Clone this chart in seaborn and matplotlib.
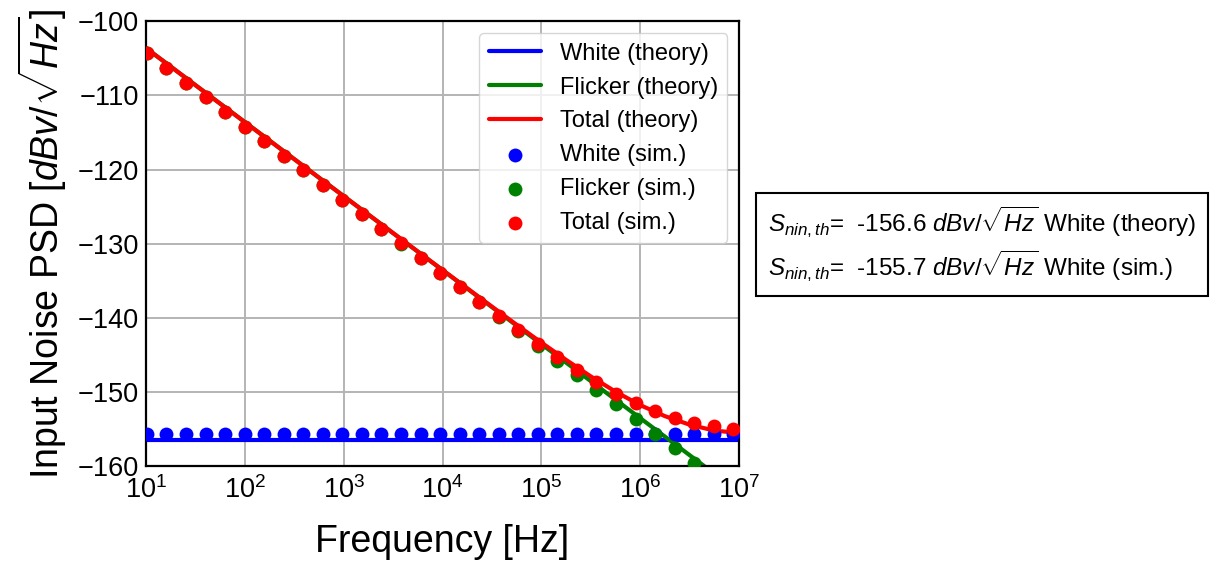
import matplotlib
matplotlib.use("Agg")
import matplotlib.pyplot as plt
from matplotlib.ticker import LogLocator, NullLocator, MultipleLocator
import seaborn as sns

# theory curves, sampled every quarter decade
freq_theory = [1.00e1, 1.78e1, 3.16e1, 5.62e1, 1.00e2, 1.78e2, 3.16e2, 5.62e2,
               1.00e3, 1.78e3, 3.16e3, 5.62e3, 1.00e4, 1.78e4, 3.16e4, 5.62e4,
               1.00e5, 1.78e5, 3.16e5, 5.62e5, 1.00e6, 1.78e6, 3.16e6, 5.62e6, 1.00e7]
white_theory = [-156.6] * 25
flicker_theory = [-103.6, -106.1, -108.6, -111.1, -113.6, -116.1, -118.6, -121.1,
                  -123.6, -126.1, -128.6, -131.1, -133.6, -136.1, -138.6, -141.1,
                  -143.6, -146.1, -148.6, -151.1, -153.6, -156.1, -158.6, -161.1, -163.6]
total_theory = [-103.6, -106.1, -108.6, -111.1, -113.6, -116.1, -118.6, -121.1,
                -123.6, -126.1, -128.59, -131.09, -133.58, -136.06, -138.53, -140.98,
                -143.39, -145.73, -147.96, -150.02, -151.84, -153.33, -154.48, -155.28, -155.6]

# simulated points
freq_sim = [10.2, 16.1, 25.4, 40.1, 63.2, 99.7, 157, 248, 391, 615,
            971, 1531, 2411, 3802, 5998, 9462, 14894, 23496, 37068, 58345,
            92045, 145211, 228560, 360578, 568853, 897428, 1412538, 2228435,
            3515604, 5533501, 8729767]
white_sim = [-155.7] * 31
flicker_sim = [-104.30, -106.28, -108.25, -110.23, -112.21, -114.19, -116.16, -118.14,
               -120.12, -122.09, -124.07, -126.05, -128.02, -130.00, -131.98, -133.96,
               -135.93, -137.91, -139.89, -141.86, -143.84, -145.82, -147.79, -149.77,
               -151.75, -153.73, -155.70, -157.68, -159.66, -161.63, -163.61]
total_sim = [-104.30, -106.28, -108.25, -110.23, -112.21, -114.19, -116.16, -118.14,
             -120.12, -122.09, -124.07, -126.04, -128.01, -129.99, -131.96, -133.93,
             -135.88, -137.84, -139.78, -141.68, -143.57, -145.40, -147.14, -148.78,
             -150.28, -151.59, -152.69, -153.57, -154.23, -154.71, -155.05]

sns.set_style("white")
plt.rcParams['font.family'] = ['Liberation Sans', 'DejaVu Sans']
plt.rcParams['mathtext.fontset'] = 'custom'
plt.rcParams['mathtext.rm'] = 'Liberation Sans'
plt.rcParams['mathtext.it'] = 'Liberation Sans:italic'
plt.rcParams['mathtext.bf'] = 'Liberation Sans:bold'
for k in ['text.color', 'axes.labelcolor', 'xtick.color', 'ytick.color']:
    plt.rcParams[k] = 'black'

fig = plt.figure(figsize=(12.11, 5.64), dpi=100)
ax = fig.add_axes([0.1206, 0.1746, 0.4897, 0.7873])

sns.lineplot(x=freq_theory, y=white_theory, color='blue', lw=3, label='White (theory)', ax=ax)
sns.lineplot(x=freq_theory, y=flicker_theory, color='green', lw=3, label='Flicker (theory)', ax=ax)
sns.lineplot(x=freq_theory, y=total_theory, color='red', lw=3, label='Total (theory)', ax=ax)
sns.scatterplot(x=freq_sim, y=white_sim, color='blue', s=100, linewidth=0, label='White (sim.)', zorder=3, ax=ax)
sns.scatterplot(x=freq_sim, y=flicker_sim, color='green', s=100, linewidth=0, label='Flicker (sim.)', zorder=3, ax=ax)
sns.scatterplot(x=freq_sim, y=total_sim, color='red', s=100, linewidth=0, label='Total (sim.)', zorder=3, ax=ax)

ax.set_xscale('log')
ax.set_xlim(10, 1e7)
ax.set_ylim(-160, -100)
ax.xaxis.set_major_locator(LogLocator(base=10, numticks=10))
ax.xaxis.set_minor_locator(NullLocator())
ax.yaxis.set_major_locator(MultipleLocator(10))
ax.yaxis.set_minor_locator(MultipleLocator(2))
ax.tick_params(which='both', direction='in', width=1.5)
ax.tick_params(axis='y', labelsize=19.5, pad=5)
ax.tick_params(axis='x', labelsize=19.5, pad=8)
ax.tick_params(which='major', length=7)
ax.tick_params(which='minor', length=4)
ax.grid(True, which='major', color='#b4b4b4', lw=1.4)
for sp in ax.spines.values():
    sp.set_linewidth(1.6)
    sp.set_color('black')

ax.set_xlabel('Frequency [Hz]', fontsize=27, labelpad=14)
ax.set_ylabel(r'Input Noise PSD [$dBv/\sqrt{Hz}$]', fontsize=27, labelpad=6)

ax.legend(loc='upper right', fontsize=17, handlelength=2.2)

fig.text(0.634, 0.5665,
         r'$S_{nin,th}$=  -156.6 $dBv/\sqrt{Hz}$ White (theory)' + '\n' +
         r'$S_{nin,th}$=  -155.7 $dBv/\sqrt{Hz}$ White (sim.)',
         fontsize=17.5, va='center', ha='left', linespacing=1.3,
         bbox=dict(boxstyle='square,pad=0.5', fc='white', ec='black', lw=1.5))

fig.savefig('out.png', dpi=100)
